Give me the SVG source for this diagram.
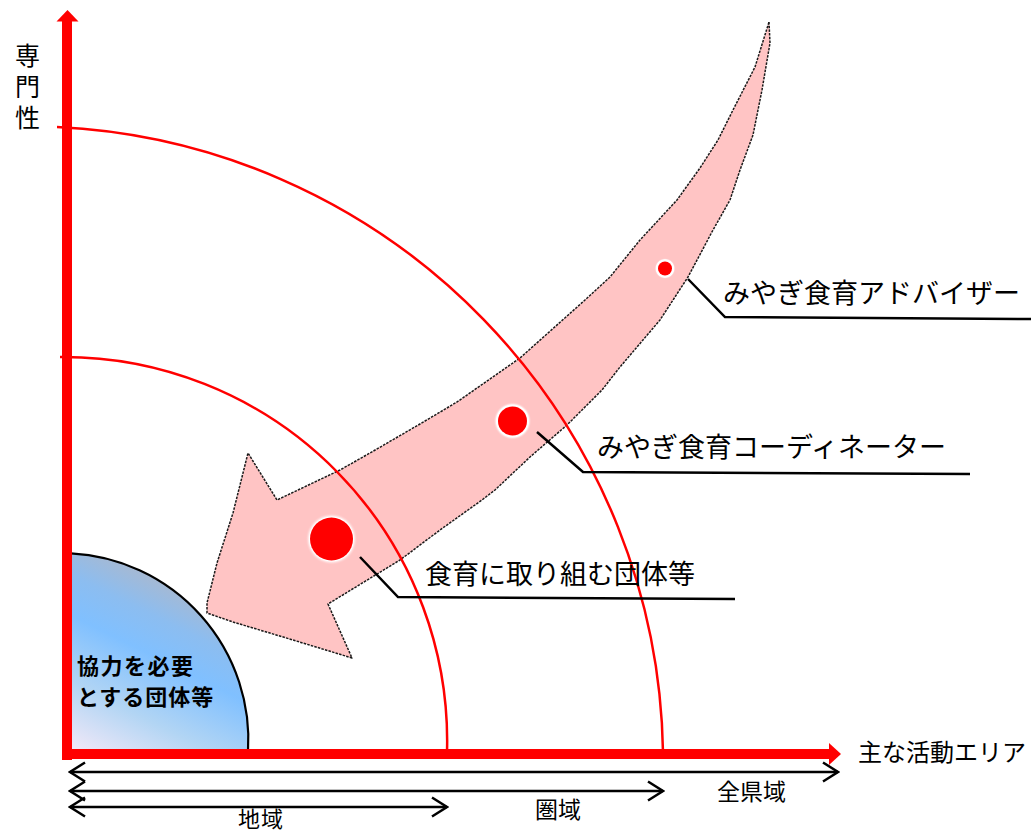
<svg xmlns="http://www.w3.org/2000/svg" width="1031" height="835" viewBox="0 0 1031 835">
<style>
.t{font-family:"Noto Sans CJK JP","Noto Sans",sans-serif;fill:#000}
.lbl{font-size:27px}
.rng{font-size:23px}
.arc{fill:none;stroke:#ff0000;stroke-width:2.5}
.axis{fill:#ff0000}
.lead{fill:none;stroke:#000;stroke-width:2.5}
.rline{fill:none;stroke:#000;stroke-width:2.5;marker-start:url(#chev);marker-end:url(#chev)}
.dot{fill:#ff0000}
</style>
<defs>
<marker id="chev" viewBox="0 0 18 22" markerWidth="18" markerHeight="22" refX="16" refY="11" orient="auto-start-reverse" markerUnits="userSpaceOnUse">
<path d="M1,1.5 L16,11 L1,20.5" fill="none" stroke="#000" stroke-width="2.5"/>
</marker>
<linearGradient id="blueg" x1="0" y1="1" x2="0.45" y2="0">
<stop offset="0" stop-color="#f6eaf8"/>
<stop offset="0.3" stop-color="#b2d5f4"/>
<stop offset="0.58" stop-color="#80c0ff"/>
<stop offset="0.75" stop-color="#8cbdf0"/>
<stop offset="0.95" stop-color="#acb8cc"/>
</linearGradient>
<radialGradient id="haloG">
<stop offset="0.7" stop-color="#ffffff"/>
<stop offset="0.85" stop-color="#ffffff"/>
<stop offset="1" stop-color="#ffc4c4" stop-opacity="0"/>
</radialGradient>
</defs>
<rect width="1031" height="835" fill="#fff"/>

<g id="cooperation-group">
<path d="M67,553 A187,187 0 0 1 248,752 L67,752 Z" fill="url(#blueg)"/>
<path d="M71,553.3 A187,187 0 0 1 248,752" fill="none" stroke="#000" stroke-width="2.2"/>
<text class="t" x="77" y="674" font-size="22" font-weight="bold" letter-spacing="1.5">協力を必要</text>
<text class="t" x="77" y="705" font-size="22" font-weight="bold" letter-spacing="1">とする団体等</text>
</g>

<g id="flow-arrow">
<path d="M769,22 L770,43 L762,90 L753,135 L740,170 L730,200 L713,230 L688,277 L660,320 L620,367 L602,390 L567,425 L530,457 L495,490 L482,500 L440,530 L400,560 L328,604 L352,658 L293,640 L233,622 L207,613 L207,603 L217,563 L233,513 L248,453 L277,500 L340,470 L370,453 L420,424 L457,402 L520,358 L585,300 L610,277 L640,240 L677,200 L700,168 L718,140 L733,110 L755,67 Z" fill="#ffc4c4" stroke="#1a1a1a" stroke-width="1.5" stroke-dasharray="2.5 1.2" stroke-linejoin="round"/>
</g>

<g id="areas">
<path class="arc" d="M57,127 A636,636 0 0 1 663,752"/>
<path class="arc" d="M60,357 A384,384 0 0 1 447,752"/>
</g>

<g id="axes">
<rect class="axis" x="62" y="20" width="10" height="740"/>
<polygon class="axis" points="56.5,21.5 67.5,10 78.5,21.5"/>
<rect class="axis" x="62" y="749" width="768" height="10"/>
<polygon class="axis" points="829,743 841,754 829,765"/>
<text class="t" x="27.5" y="43" font-size="25" writing-mode="vertical-rl" letter-spacing="6">専門性</text>
<text class="t" x="858" y="761" font-size="24">主な活動エリア</text>
</g>

<g id="connectors">
<polyline class="lead" points="688,279 725,317 1031,319"/>
<polyline class="lead" points="537,432 583,472 970,474"/>
<polyline class="lead" points="360,557 398,597 735,599"/>
<line class="rline" x1="70" y1="772" x2="838" y2="772"/>
<line class="rline" x1="70" y1="791" x2="663" y2="791"/>
<line class="rline" x1="70" y1="807" x2="447" y2="807"/>
</g>

<g id="node-adviser">
<circle cx="665" cy="268.5" r="10.5" fill="url(#haloG)"/>
<circle class="dot" cx="665" cy="268.5" r="7"/>
<text class="t lbl" x="723" y="303">みやぎ食育アドバイザー</text>
</g>

<g id="node-coordinator">
<circle cx="512.5" cy="421" r="19" fill="url(#haloG)"/>
<circle class="dot" cx="512.5" cy="421" r="14.5"/>
<text class="t lbl" x="597" y="457">みやぎ食育コーディネーター</text>
</g>

<g id="node-groups">
<circle cx="331.5" cy="539" r="26" fill="url(#haloG)"/>
<circle class="dot" cx="331.5" cy="539" r="21.5"/>
<text class="t lbl" x="425" y="584">食育に取り組む団体等</text>
</g>

<g id="range-labels">
<text class="t rng" x="717" y="800">全県域</text>
<text class="t rng" x="535" y="818">圏域</text>
<text class="t" x="238" y="827" font-size="22" letter-spacing="1">地域</text>
</g>
</svg>
